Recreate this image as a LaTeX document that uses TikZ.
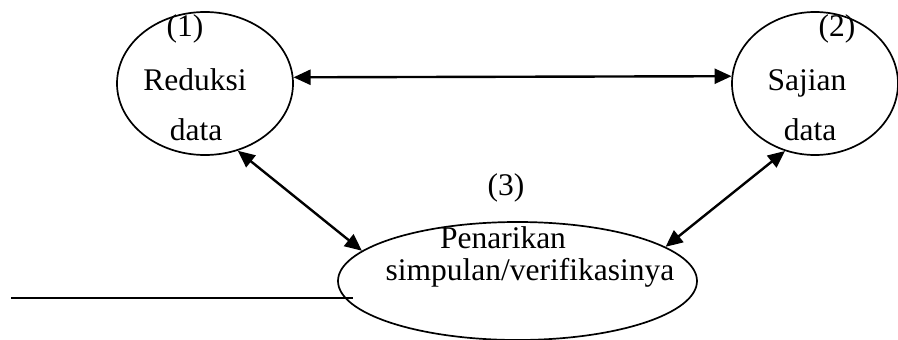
\documentclass[tikz,border=0pt]{standalone}
\usepackage{fontspec}
\setmainfont{Liberation Serif}
\usetikzlibrary{shapes.geometric,arrows.meta}
\begin{document}
\begin{tikzpicture}[x=1pt,y=-1pt,
  oval/.style={draw,ellipse,line width=1.7pt,inner sep=0pt},
  lbl/.style={anchor=base,inner sep=0pt,font=\fontsize{31.5}{34}\selectfont},
  dbl/.style={line width=2.4pt,{Triangle[length=17pt,width=15pt]}-{Triangle[length=17pt,width=15pt]}}]
\useasboundingbox (0,0) rectangle (898,340);
\node[oval,minimum width=176pt,minimum height=143pt] (e1) at (205,83.5) {};
\node[oval,minimum width=166pt,minimum height=143pt] (e2) at (815,83.5) {};
\node[oval,minimum width=359pt,minimum height=118pt] (e3) at (517.5,281) {};
\node[lbl] (n1) at (185,36) {(1)};
\node[lbl] (t1a) at (195,90) {Reduksi};
\node[lbl] (t1b) at (196,140) {data};
\node[lbl] (n2) at (837,36) {(2)};
\node[lbl] (t2a) at (807,90) {Sajian};
\node[lbl] (t2b) at (810,140) {data};
\node[lbl] (n3) at (506,195) {(3)};
\node[lbl] (t3a) at (503,248) {Penarikan};
\node[lbl] (t3b) at (530,280) {simpulan/verifikasinya};
\draw[dbl] (e1.4) -- (e2.175.5);
\draw[dbl] (e1.-64) -- (e3.169);
\draw[dbl] (e3.13) -- (e2.-114);
\coordinate (l1) at (11,298);
\coordinate (l2) at (353,298);
\draw[line width=1.1pt] (l1) -- (l2);
\end{tikzpicture}
\end{document}
